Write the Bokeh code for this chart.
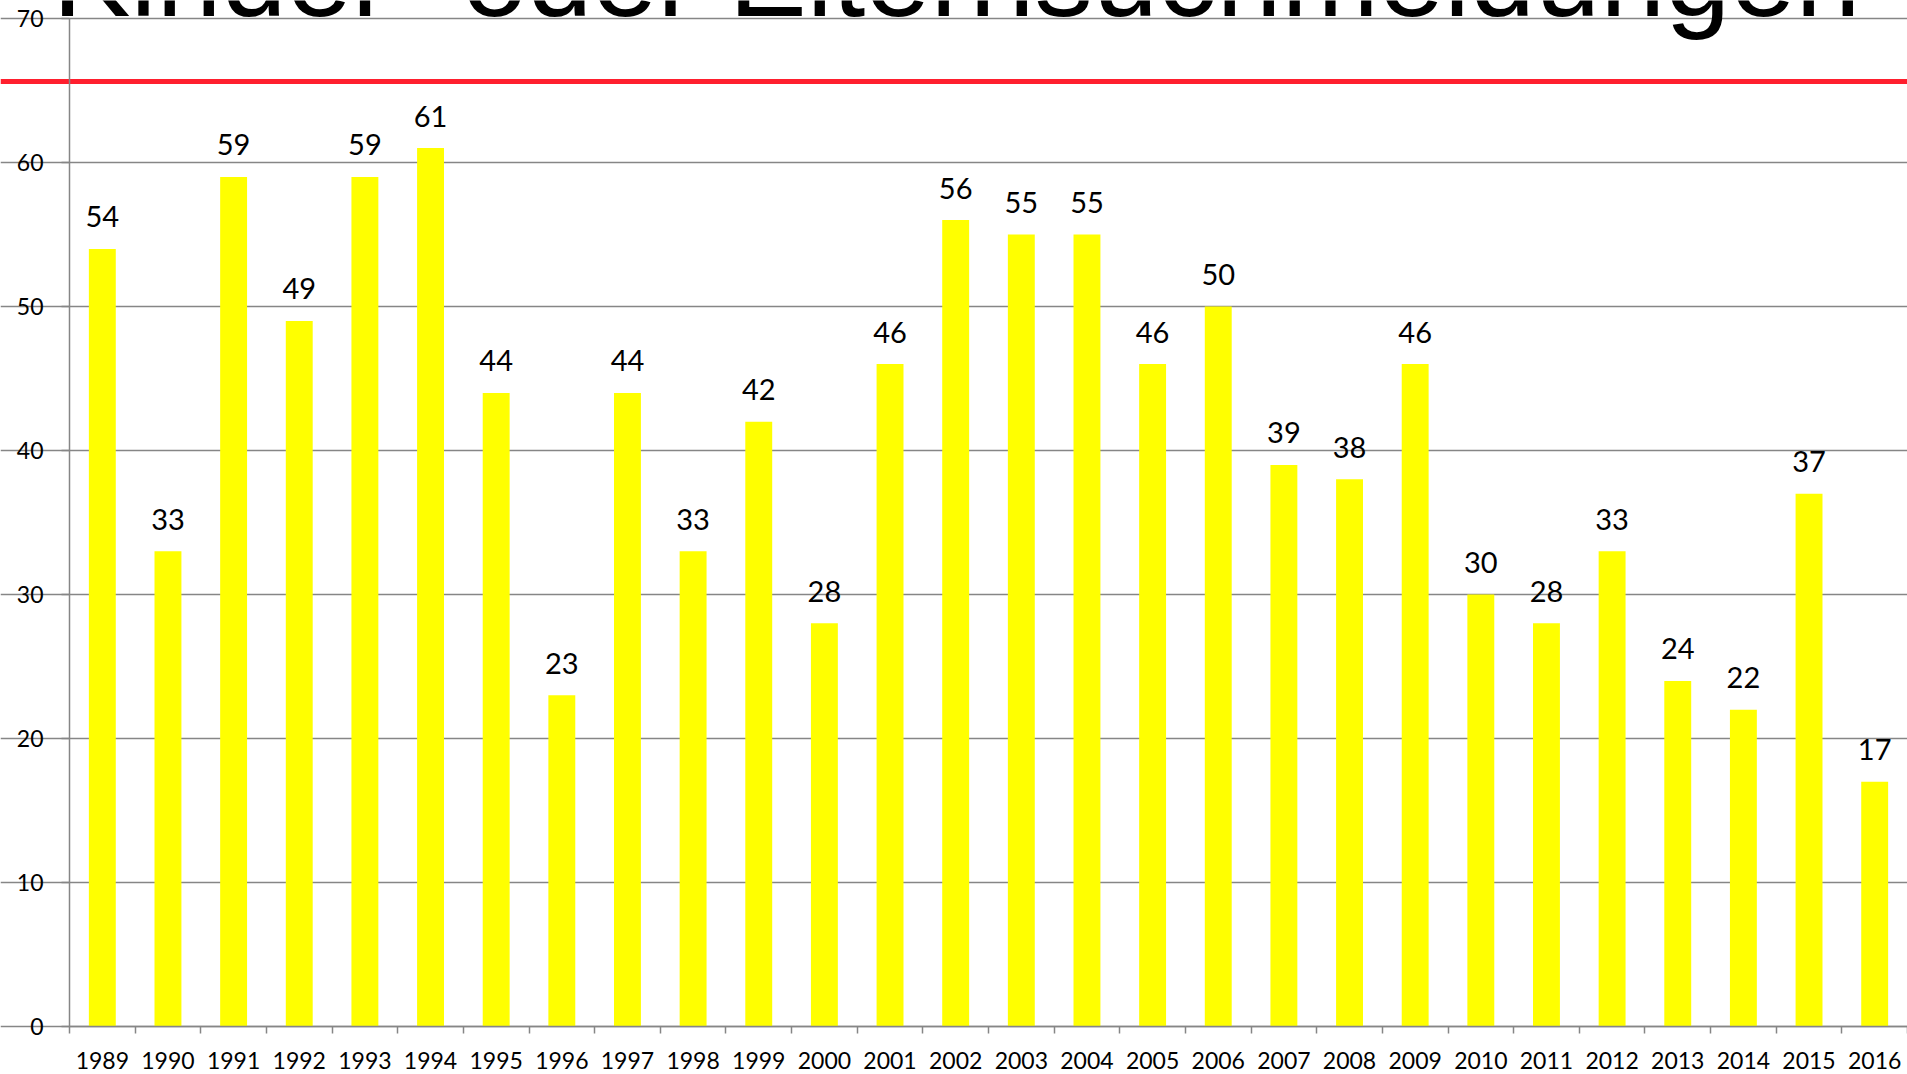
from bokeh.plotting import figure
from bokeh.models import Range1d, FixedTicker, Label, BoxAnnotation
from bokeh.core.properties import value
from bokeh.embed import file_html
from bokeh.resources import INLINE

years = [1989, 1990, 1991, 1992, 1993, 1994, 1995, 1996, 1997, 1998, 1999, 2000,
         2001, 2002, 2003, 2004, 2005, 2006, 2007, 2008, 2009, 2010, 2011, 2012,
         2013, 2014, 2015, 2016]
counts = [54, 33, 59, 49, 59, 61, 44, 23, 44, 33, 42, 28,
          46, 56, 55, 55, 46, 50, 39, 38, 46, 30, 28, 33,
          24, 22, 37, 17]
y_ticks = [0, 10, 20, 30, 40, 50, 60, 70]
title_text = "Kinder- oder Elternsuchmeldungen"

W, H = 1907, 1074
# plot-area edges inside the canvas (pixels)
LEFT_PX, TOP_PX, BOTTOM_PX = 69, 18, 48
GRAY = "#868686"
FONT = "Lato"

x0 = years[0] - 0.5
x1 = years[-1] + 0.5
cat_px = (W - LEFT_PX) / (x1 - x0)
x_start = x0 - LEFT_PX / cat_px

y0, y1 = y_ticks[0], y_ticks[-1]
unit_px = (H - TOP_PX - BOTTOM_PX) / (y1 - y0)
y_start = y0 - BOTTOM_PX / unit_px
y_end = y1 + TOP_PX / unit_px

p = figure(width=W, height=H, output_backend="svg", toolbar_location=None,
           x_range=Range1d(x_start, x1),
           y_range=Range1d(y_start, y_end),
           min_border_left=0, min_border_right=0, min_border_top=0,
           min_border_bottom=0)
p.outline_line_color = None
p.background_fill_color = "white"
p.border_fill_color = "white"

# red separator line across the slide (behind everything)
p.add_layout(BoxAnnotation(top=65.8, bottom=65.45, fill_color="#FF1F2E",
                           fill_alpha=1.0, line_color=None, level="underlay"))

p.vbar(x=years, top=counts, width=0.41, fill_color="#FFFF00", line_color=None)

p.text(x=years, y=counts, text=[str(c) for c in counts],
       text_align="center", text_baseline="alphabetic", y_offset=-32,
       text_font=value(FONT), text_font_size="29px", text_color="black")

# x axis: labels at year centres, ticks at category boundaries
bounds = [y - 0.5 for y in years] + [x1]
xa = p.xaxis[0]
xa.fixed_location = y0
xa.bounds = (x0, x1)
xa.ticker = FixedTicker(ticks=years, minor_ticks=bounds)
xa.major_tick_out = 0
xa.major_tick_in = 0
xa.minor_tick_out = 7
xa.minor_tick_in = 0
xa.minor_tick_line_color = GRAY
xa.minor_tick_line_width = 1.5
xa.axis_line_color = GRAY
xa.axis_line_width = 1.5
xa.major_label_text_font = FONT
xa.major_label_text_font_size = "23px"
xa.major_label_text_color = "black"
xa.major_label_standoff = 18

ya = p.yaxis[0]
ya.fixed_location = x0
ya.bounds = (y0, y1)
ya.ticker = FixedTicker(ticks=y_ticks)
ya.major_tick_out = 8
ya.major_tick_in = 0
ya.minor_tick_out = 0
ya.minor_tick_in = 0
ya.major_tick_line_color = GRAY
ya.major_tick_line_width = 1.5
ya.axis_line_color = GRAY
ya.axis_line_width = 1.5
ya.major_label_text_font = FONT
ya.major_label_text_font_size = "23px"
ya.major_label_text_color = "black"
ya.major_label_standoff = 18

p.xgrid.grid_line_color = None
p.ygrid.ticker = FixedTicker(ticks=y_ticks)
p.ygrid.bounds = (x0, x1)
p.ygrid.grid_line_color = GRAY
p.ygrid.grid_line_width = 1.3

# slide title, mostly cut off at the top
p.add_layout(Label(x=956, x_units="canvas", y=73.0, text=title_text,
                   text_align="center", text_baseline="alphabetic",
                   text_font="Liberation Sans", text_font_size="117px",
                   text_color="black"))

open("out.html", "w").write(file_html(p, INLINE))
